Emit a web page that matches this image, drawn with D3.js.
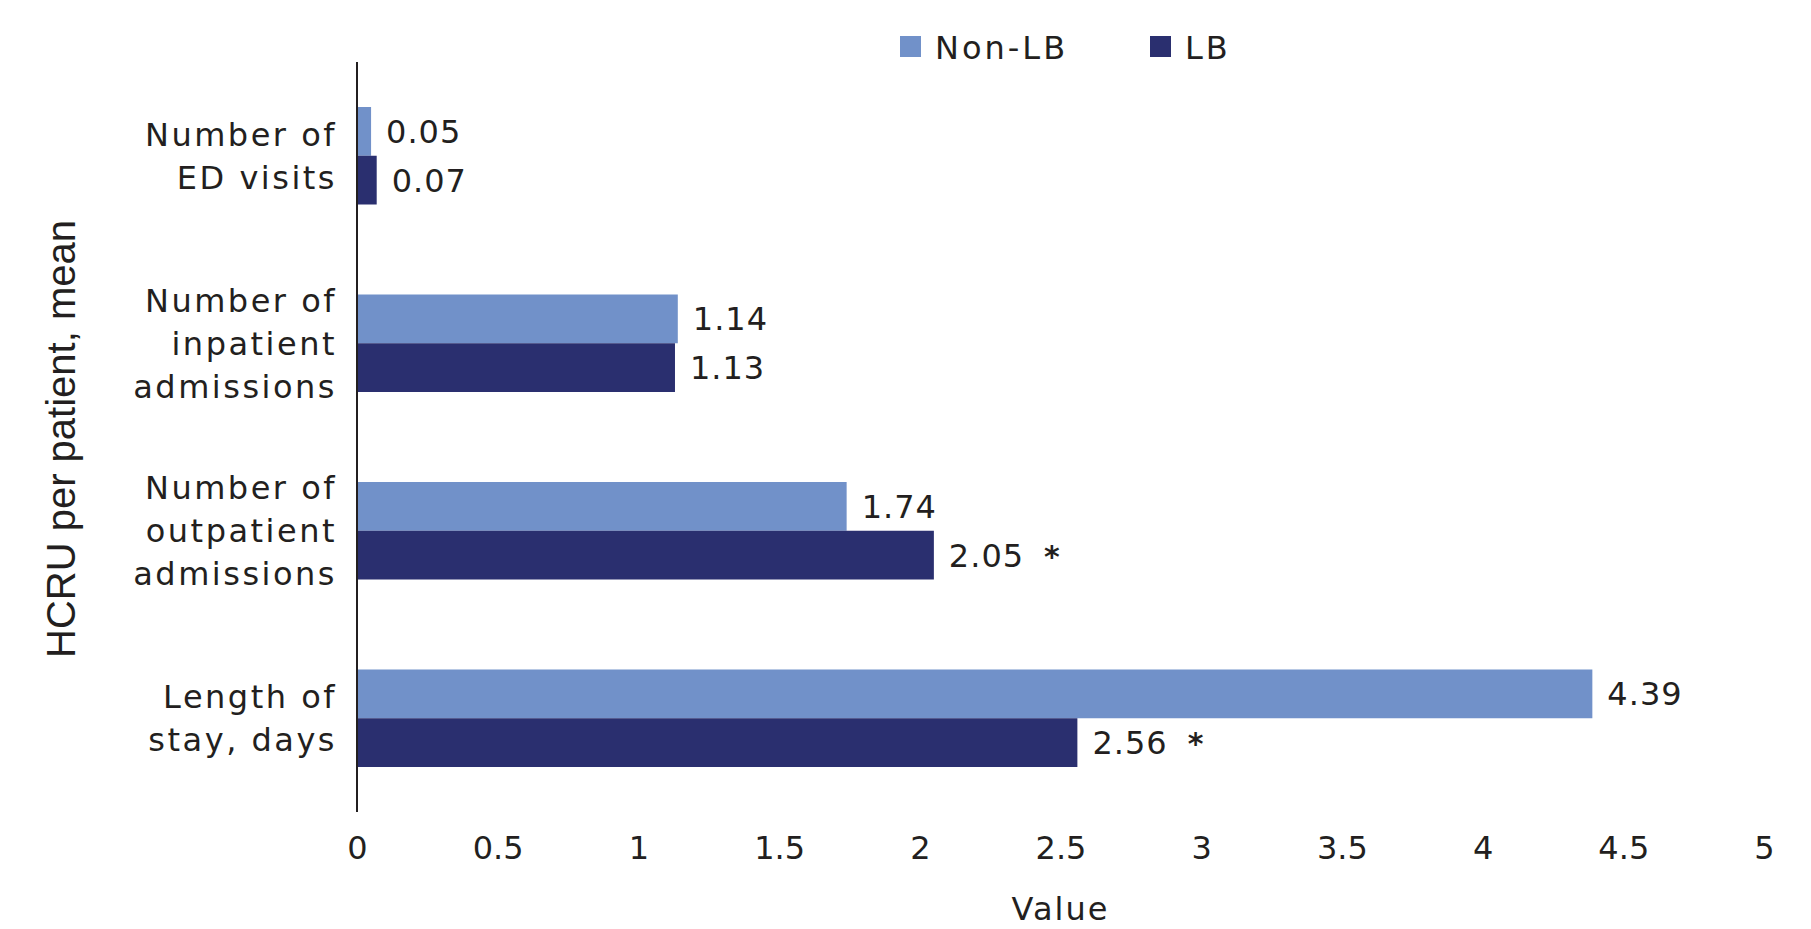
<!DOCTYPE html>
<html>
<head>
<meta charset="utf-8">
<script src="https://cdn.jsdelivr.net/npm/d3@7"></script>
<style>
  body { margin: 0; background: #fff; }
  text { font-family: "DejaVu Sans", sans-serif; fill: #231f20; }
</style>
</head>
<body>
<div id="chart"></div>
<script>
// data
var categories = ["Number of|ED visits", "Number of|inpatient|admissions", "Number of|outpatient|admissions", "Length of|stay, days"];
var seriesNames = ["Non-LB", "LB"];
var nonLB = [0.05, 1.14, 1.74, 4.39];
var lb = [0.07, 1.13, 2.05, 2.56];
var lbSignificant = [false, false, true, true];
var xTicks = [0, 0.5, 1, 1.5, 2, 2.5, 3, 3.5, 4, 4.5, 5];
var colors = ["#7191c9", "#2a2f6f"];

var W = 1811, H = 929;
var margin = {top: 62, right: 47, bottom: 117, left: 357},
    width = W - margin.left - margin.right,
    height = H - margin.top - margin.bottom;

var svg = d3.select("#chart")
  .append("svg")
    .attr("width", W)
    .attr("height", H);

var g = svg.append("g")
    .attr("transform", "translate(" + margin.left + "," + margin.top + ")");

var rows = categories.map(function (c, i) {
  return {cat: c, values: [
    {series: 0, v: nonLB[i], sig: false},
    {series: 1, v: lb[i], sig: lbSignificant[i]}
  ]};
});

var x = d3.scaleLinear().domain([0, 5]).range([0, width]);
var y = d3.scaleBand().domain(categories).range([0, height]).paddingInner(0.48).paddingOuter(0.24);
var y1 = d3.scaleBand().domain([0, 1]).range([0, y.bandwidth()]);

// x axis: labels only
var xAxis = g.append("g")
    .attr("transform", "translate(0," + height + ")")
    .call(d3.axisBottom(x).tickValues(xTicks).tickSize(0).tickPadding(24).tickFormat(d3.format("")));
xAxis.select(".domain").remove();
xAxis.selectAll("text")
    .style("font-size", "32px")
    .style("font-family", "DejaVu Sans, sans-serif")
    .attr("fill", "#231f20");

// bars
var group = g.selectAll(".grp")
  .data(rows)
  .enter().append("g")
    .attr("class", "grp")
    .attr("transform", function (d) { return "translate(0," + y(d.cat) + ")"; });

group.selectAll("rect")
  .data(function (d) { return d.values; })
  .enter().append("rect")
    .attr("x", 0)
    .attr("y", function (d) { return y1(d.series); })
    .attr("width", function (d) { return x(d.v); })
    .attr("height", y1.bandwidth())
    .style("fill", function (d) { return colors[d.series]; });

var lbl = group.selectAll(".val")
  .data(function (d) { return d.values; })
  .enter().append("text")
    .attr("class", "val")
    .attr("x", function (d) { return x(d.v) + 15; })
    .attr("y", function (d) { return y1(d.series) + y1.bandwidth() / 2; })
    .attr("dy", "0.36em")
    .style("font-size", "32px")
    .style("letter-spacing", "1px");
lbl.append("tspan").text(function (d) { return d.v.toFixed(2); });
lbl.filter(function (d) { return d.sig; })
  .append("tspan")
    .attr("dx", 20)
    .style("font-weight", "bold")
    .style("font-size", "30px")
    .text("*");

// y axis line
g.append("line")
    .attr("x1", 0).attr("x2", 0)
    .attr("y1", 0).attr("y2", height)
    .attr("stroke", "#231f20")
    .attr("stroke-width", 2);

// category labels
group.append("text")
    .attr("text-anchor", "end")
    .attr("x", -20)
    .style("font-size", "32px")
    .style("letter-spacing", "2.5px")
    .each(function (d) {
      var lines = d.cat.split("|");
      var t = d3.select(this);
      var lh = 43;
      var start = y.bandwidth() / 2 - (lines.length - 1) * lh / 2;
      lines.forEach(function (l, i) {
        t.append("tspan")
          .attr("x", -20)
          .attr("y", start + i * lh)
          .attr("dy", "0.36em")
          .text(l);
      });
    });

// axis titles
svg.append("text")
    .attr("x", margin.left + width / 2)
    .attr("y", 920)
    .attr("text-anchor", "middle")
    .style("font-size", "32px")
    .style("letter-spacing", "2px")
    .text("Value");

svg.append("text")
    .attr("transform", "translate(75,439) rotate(-90)")
    .attr("text-anchor", "middle")
    .style("font-family", "Liberation Sans, Arial, sans-serif")
    .style("font-size", "40px")
    .text("HCRU per patient, mean");

// legend
var legX = [900, 1150];
var leg = svg.selectAll(".leg")
  .data(seriesNames)
  .enter().append("g")
    .attr("class", "leg")
    .attr("transform", function (d, i) { return "translate(" + legX[i] + ",36)"; });
leg.append("rect")
    .attr("width", 21).attr("height", 21)
    .style("fill", function (d, i) { return colors[i]; });
leg.append("text")
    .attr("x", 35)
    .attr("y", 11)
    .attr("dy", "0.36em")
    .style("font-size", "32px")
    .style("letter-spacing", "3px")
    .text(function (d) { return d; });
</script>
</body>
</html>
